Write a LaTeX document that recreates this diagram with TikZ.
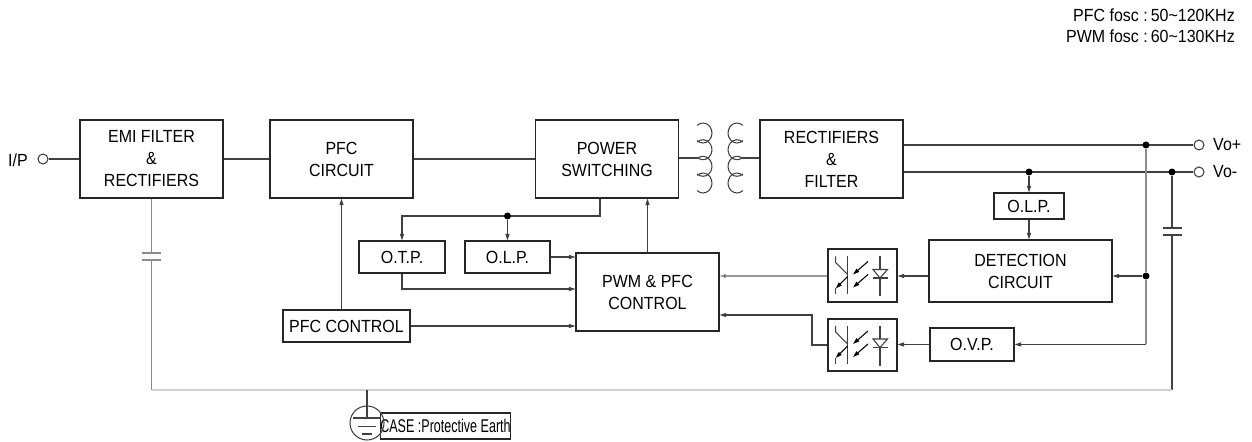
\documentclass[tikz,border=0pt]{standalone}
\usepackage{fontspec}
\setmainfont{Liberation Sans}[FakeStretch=0.91]
\newfontfamily\narrowfont{Liberation Sans}[FakeStretch=0.68]
\usepackage{tikz}
\usetikzlibrary{arrows.meta}
\tikzstyle{blocks} = [rectangle, minimum width=2.86cm, minimum height=1.56cm, inner sep=0pt, align=center, draw=black!85, line width=0.7pt, font=\fontsize{10}{12.5}\selectfont]
\tikzstyle{sblocks} = [rectangle, minimum height=0.64cm, inner sep=0pt, align=center, draw=black!85, line width=0.7pt, font=\fontsize{10}{12}\selectfont]
\tikzstyle{line} = [line width=0.6pt, draw=black!75]
\tikzstyle{gline} = [line width=0.6pt, draw=black!45]
\tikzstyle{lline} = [line width=0.6pt, draw=black!18]
\tikzstyle{arrow} = [line width=0.6pt, draw=black!75, -{Triangle[length=1.3mm,width=0.8mm]}]
\tikzstyle{garrow} = [line width=0.6pt, draw=black!40, -{Triangle[length=1.3mm,width=0.8mm,fill=black]}]
\tikzstyle{dot} = [circle, fill=black, inner sep=0pt, minimum size=0.14cm]
\tikzstyle{term} = [circle, draw=black!75, fill=white, line width=0.6pt, inner sep=0pt, minimum size=0.2cm]
\tikzstyle{label} = [font=\fontsize{10}{12}\selectfont]

\begin{document}
\begin{tikzpicture}[x=0.02cm, y=-0.02cm]
        \useasboundingbox (0,0) rectangle (1252,442);

        % frequencies
        \node[label, anchor=east] (fpfc) at (1241,15) {PFC fosc :\,50\textasciitilde120KHz};
        \node[label, anchor=east] (fpwm) at (1241,36) {PWM fosc :\,60\textasciitilde130KHz};

        % main blocks
        \node[blocks] (emi) at (151.5,159) {EMI FILTER\\\&\\RECTIFIERS};
        \node[blocks] (pfc) at (341.5,159) {PFC\\CIRCUIT};
        \node[blocks] (psw) at (607,159) {POWER\\SWITCHING};
        \node[blocks] (rect) at (831.5,159) {RECTIFIERS\\\&\\FILTER};
        \node[blocks] (pwm) at (647.5,292) {PWM \& PFC\\CONTROL};
        \node[blocks, minimum width=3.66cm, minimum height=1.24cm] (det) at (1020.5,271) {DETECTION\\CIRCUIT};

        % small blocks
        \node[sblocks, minimum width=1.72cm] (otp) at (402,257) {O.T.P.};
        \node[sblocks, minimum width=1.7cm] (olpa) at (507.5,257) {O.L.P.};
        \node[sblocks, minimum width=2.54cm] (pfcc) at (346.5,326) {PFC CONTROL};
        \node[sblocks, minimum width=1.4cm, minimum height=0.52cm] (olpb) at (1029,206) {O.L.P.};
        \node[sblocks, minimum width=1.68cm, minimum height=0.66cm] (ovp) at (972,344.5) {O.V.P.};
        \node[sblocks, minimum width=1.38cm, minimum height=1.06cm] (opta) at (862.5,275.5) {};
        \node[sblocks, minimum width=1.38cm, minimum height=1.04cm] (optb) at (862.5,345) {};
        \node[sblocks, minimum width=2.5cm, minimum height=0.52cm, font=\narrowfont\fontsize{10.5}{12}\selectfont] (case) at (445.5,426) {CASE :Protective Earth};

        % optocouplers
        \foreach \o in {opta, optb} {
            \begin{scope}[shift={(\o.center)}]
                \draw[line] (-14.8,-19) -- (-14.8,19);
                \draw[line] (-26.8,-19) -- (-26.8,-13) -- (-14.8,-1);
                \draw[arrow, draw=black] (-14.8,1) -- (-26.8,13);
                \draw[line] (-26.8,13) -- (-26.8,19);
                \draw[arrow, draw=black] (5.5,-14) -- (-9.5,-1);
                \draw[arrow, draw=black] (5.5,-1) -- (-9.5,12);
                \draw[line] (17.5,-19) -- (17.5,21);
                \draw[line, fill=white] (10.5,-6) -- (25,-6) -- (17.5,2.5) -- cycle;
                \draw[line] (10.5,2.5) -- (25,2.5);
            \end{scope}
        }

        % terminals
        \node[term] (ip) at (43,159) {};
        \node[label] (iplab) at (18,160) {I/P};
        \node[term] (vop) at (1199,145) {};
        \node[label, anchor=west] (voplab) at (1207,145) {Vo+};
        \node[term] (von) at (1199,172) {};
        \node[label, anchor=west] (vonlab) at (1207,172) {Vo-};

        % power path
        \draw[line] (ip) -- (emi);
        \draw[line] (emi) -- (pfc);
        \draw[line] (pfc) -- (psw);

        % transformer
        \coordinate (pri) at (697,158);
        \coordinate (sec) at (743,158);
        \draw[line] (psw.east |- pri) -- (pri);
        \draw[line] (sec) -- (rect.west |- sec);
        \foreach \cy in {133,149.7,166.3,183} {
            \draw[line] ([shift={(130:0.18cm and 0.2cm)}]703,\cy) arc[start angle=130, end angle=-130, x radius=0.18cm, y radius=0.2cm];
            \draw[line] ([shift={(50:0.18cm and 0.2cm)}]737,\cy) arc[start angle=50, end angle=310, x radius=0.18cm, y radius=0.2cm];
        }

        % outputs
        \draw[line] (rect.east |- vop) -- (vop);
        \draw[line] (rect.east |- von) -- (von);
        \node[dot] (d1) at (1146,145) {};
        \node[dot] (d2) at (1029,172) {};
        \node[dot] (d3) at (1172,172) {};
        \node[dot] (d4) at (1146,276) {};

        % feedback
        \draw[arrow] (d2) -- (olpb);
        \draw[arrow] (olpb.south) -- (olpb.south |- det.north);
        \draw[gline] (d1) -- (d4);
        \draw[arrow] (d4) -- (det.east |- d4);
        \draw[gline] (d4) -- (d4 |- ovp);
        \draw[arrow] (d4 |- ovp) -- (ovp.east);
        \draw[arrow] (det.west |- d4) -- (opta.east |- d4);
        \draw[arrow] (ovp.west) -- (optb.east |- ovp);
        \draw[garrow] (opta.west |- d4) -- (pwm.east |- d4);
        \coordinate (fb) at (812,315);
        \draw[arrow] (optb.west) -| (fb) -- (pwm.east |- fb);

        % control
        \draw[arrow] (pwm.north) -- (pwm.north |- psw.south);
        \coordinate (sw) at (600,216);
        \draw[arrow] (psw.south -| sw) -- (sw) -| (otp.north);
        \node[dot] (d5) at (olpa.north |- sw) {};
        \draw[arrow] (d5) -- (olpa.north);
        \draw[arrow] (olpa.east) -- (pwm.west |- olpa.east);
        \coordinate (tp) at (402,289);
        \draw[arrow] (otp.south) |- (pwm.west |- tp);
        \draw[arrow] (pfcc.east) -- (pwm.west |- pfcc.east);
        \draw[arrow] (pfc.south |- pfcc.north) -- (pfc.south);

        % capacitors and earth
        \coordinate (cra) at (1172,228);
        \coordinate (crb) at (1172,235);
        \coordinate (cla) at (151.5,253);
        \coordinate (clb) at (151.5,260);
        \coordinate (gnd) at (367,390);
        \draw[line] (d3) -- (cra);
        \draw[line] ([xshift=-0.19cm]cra) -- ([xshift=0.19cm]cra);
        \draw[line] ([xshift=-0.19cm]crb) -- ([xshift=0.19cm]crb);
        \draw[line] (crb) -- (crb |- gnd);
        \draw[lline] (crb |- gnd) -- (clb |- gnd);
        \draw[gline] (clb |- gnd) -- (clb);
        \draw[gline] ([xshift=-0.2cm]cla) -- ([xshift=0.2cm]cla);
        \draw[gline] ([xshift=-0.2cm]clb) -- ([xshift=0.2cm]clb);
        \draw[gline] (cla) -- (emi.south);

        \draw[line] (gnd) -- (367,418);
        \draw[line] (367,423) circle (0.34cm);
        \draw[line] (353,418) -- (381,418);
        \draw[line] (358,426.5) -- (376,426.5);
        \draw[line] (362,434) -- (372,434);

    \end{tikzpicture}
\end{document}
